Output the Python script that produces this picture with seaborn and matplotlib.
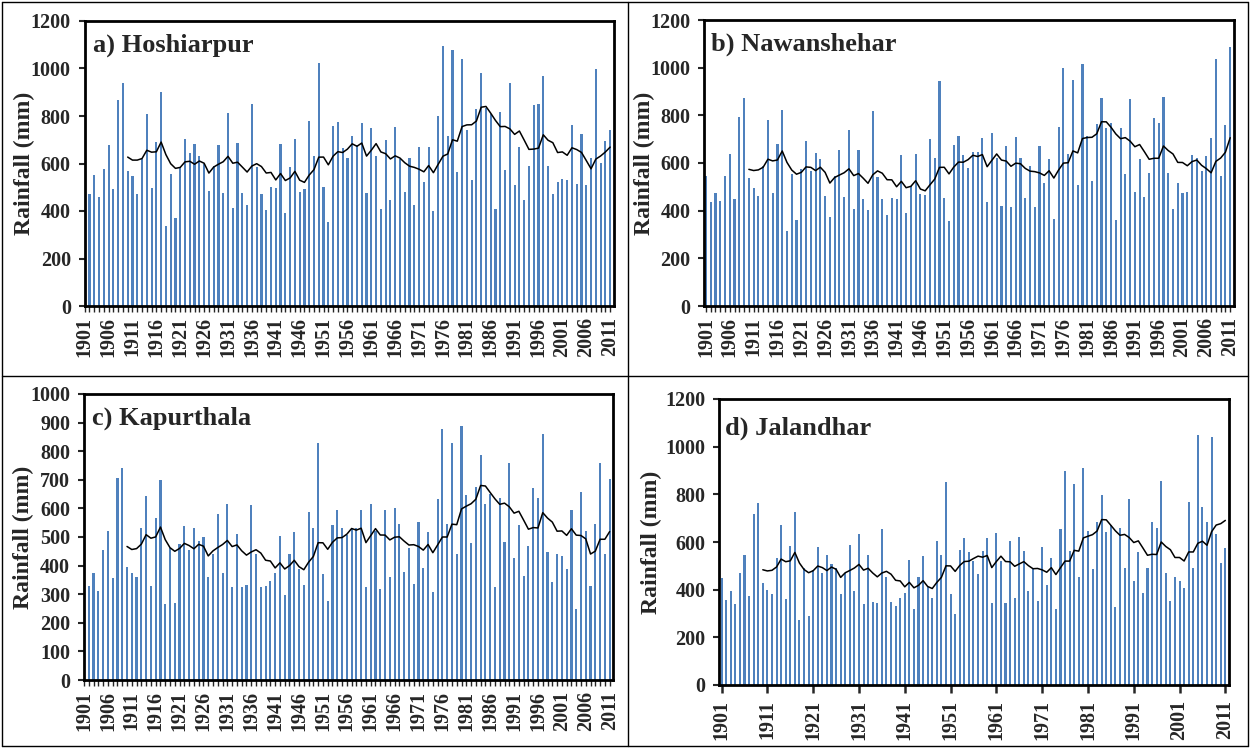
import numpy as np
import pandas as pd
import matplotlib
matplotlib.use("Agg")
import matplotlib.pyplot as plt
from matplotlib.lines import Line2D
import seaborn as sns

sns.set_style("ticks")
plt.rcParams["font.family"] = ["Liberation Serif", "DejaVu Serif"]
plt.rcParams["font.weight"] = "bold"

years = list(range(1901, 2012))

hoshiarpur = [
    673, 470, 552, 458, 578, 676, 491, 867, 938, 567,
    546, 470, 618, 807, 497, 692, 900, 338, 556, 371,
    587, 703, 643, 682, 633, 598, 486, 591, 676, 476,
    813, 414, 686, 476, 425, 851, 584, 470, 404, 501,
    497, 682, 393, 584, 703, 480, 491, 779, 633, 1025,
    501, 355, 758, 773, 667, 623, 714, 676, 769, 476,
    748, 633, 408, 699, 446, 754, 620, 480, 623, 425,
    671, 524, 671, 399, 800, 1095, 714, 1078, 563, 1040,
    742, 529, 828, 981, 832, 810, 408, 818, 573, 939,
    508, 671, 446, 589, 845, 849, 970, 589, 470, 524,
    535, 529, 762, 514, 724, 508, 623, 996, 601, 693,
    741,
]

nawanshehar = [
    547, 436, 476, 442, 547, 639, 448, 792, 872, 535,
    497, 463, 587, 779, 476, 678, 824, 313, 552, 361,
    573, 693, 568, 644, 616, 463, 375, 547, 654, 459,
    737, 408, 654, 448, 404, 818, 540, 448, 383, 453,
    448, 633, 389, 505, 639, 470, 465, 699, 623, 945,
    453, 355, 676, 714, 633, 578, 648, 648, 703, 436,
    724, 619, 421, 671, 414, 710, 622, 453, 589, 414,
    671, 514, 616, 366, 752, 998, 639, 947, 508, 1015,
    714, 524, 762, 872, 748, 769, 361, 748, 552, 867,
    480, 616, 459, 556, 790, 769, 877, 556, 408, 514,
    476, 480, 633, 622, 568, 629, 703, 1036, 547, 758,
    1085,
]

kapurthala = [
    480, 330, 374, 311, 453, 520, 357, 705, 743, 396,
    374, 361, 530, 642, 330, 565, 701, 265, 462, 270,
    474, 538, 454, 530, 485, 500, 361, 442, 579, 375,
    615, 325, 511, 325, 333, 611, 439, 325, 329, 347,
    374, 502, 297, 442, 519, 388, 333, 588, 530, 828,
    370, 275, 542, 596, 530, 506, 532, 532, 596, 325,
    614, 520, 319, 593, 361, 601, 547, 379, 460, 337,
    551, 393, 516, 306, 633, 878, 547, 828, 442, 888,
    647, 478, 674, 787, 614, 650, 325, 637, 484, 760,
    425, 543, 365, 470, 670, 637, 860, 447, 344, 442,
    434, 388, 596, 248, 656, 520, 330, 547, 760, 442,
    702,
]

jalandhar = [
    448, 356, 395, 339, 471, 546, 373, 718, 763, 426,
    399, 382, 534, 671, 361, 584, 724, 273, 493, 290,
    483, 578, 469, 546, 507, 493, 382, 469, 588, 394,
    633, 339, 546, 349, 345, 654, 452, 349, 333, 366,
    387, 525, 318, 452, 541, 410, 367, 605, 546, 850,
    382, 296, 567, 616, 556, 522, 466, 562, 616, 343,
    637, 520, 343, 605, 366, 622, 562, 394, 487, 354,
    578, 420, 534, 317, 654, 899, 562, 845, 454, 909,
    648, 487, 686, 796, 644, 670, 328, 660, 490, 780,
    437, 556, 388, 490, 686, 660, 854, 471, 354, 454,
    437, 409, 767, 490, 1050, 746, 686, 1039, 633, 513,
    573,
]

panel_titles = ["a) Hoshiarpur", "b) Nawanshehar", "c) Kapurthala", "d) Jalandhar"]
y_label = "Rainfall (mm)"

W, H = 1251, 748
fig = plt.figure(figsize=(W / 100, H / 100), dpi=100)

def fr(l, r, t, b):
    return [l / W, 1 - b / H, (r - l) / W, (b - t) / H]

specs = [
    dict(data=hoshiarpur, rect=fr(84.7, 613.5, 21, 306), ymax=1200, ystep=200,
         xlim=(1901.0, 2011.7), xstep=5, minor=True, ylab_x=-0.094,
         title_xy=(0.016, 0.916)),
    dict(data=nawanshehar, rect=fr(704.3, 1234, 20, 306), ymax=1200, ystep=200,
         xlim=(1900.65, 2011.8), xstep=5, minor=True, ylab_x=-0.093,
         title_xy=(0.013, 0.916)),
    dict(data=kapurthala, rect=fr(84, 613, 394, 680), ymax=1000, ystep=100,
         xlim=(1901.0, 2011.7), xstep=5, minor=True, ylab_x=-0.094,
         title_xy=(0.015, 0.916)),
    dict(data=jalandhar, rect=fr(719.3, 1229, 399, 685), ymax=1200, ystep=200,
         xlim=(1900.5, 2011.8), xstep=10, minor=False, ylab_x=-0.112,
         title_xy=(0.011, 0.899)),
]

bar_color = "#4F81BD"
tick_fs = 14.5

for spec, title in zip(specs, panel_titles):
    ax = fig.add_axes(spec["rect"])
    df = pd.DataFrame({"year": years, "rain": spec["data"]})
    df["ma"] = df["rain"].rolling(10).mean()
    sns.barplot(data=df, x="year", y="rain", native_scale=True, color=bar_color,
                saturation=1, width=0.45, errorbar=None, ax=ax, linewidth=0)
    sns.lineplot(data=df.dropna(), x="year", y="ma", color="black", linewidth=1.1, ax=ax)
    ax.set_xlim(*spec["xlim"])
    ax.set_ylim(0, spec["ymax"])
    yt = np.arange(0, spec["ymax"] + 1, spec["ystep"])
    ax.set_yticks(yt)
    ax.set_yticklabels([str(v) for v in yt], fontsize=tick_fs, fontweight="bold")
    if spec["minor"]:
        ax.set_xticks(years)
        ax.set_xticklabels([str(y) if (y - 1901) % spec["xstep"] == 0 else "" for y in years],
                           rotation=90, fontsize=tick_fs, fontweight="bold")
        ax.tick_params(axis="x", length=4, width=1, pad=4)
    else:
        xt = list(range(1901, 2012, spec["xstep"]))
        ax.set_xticks(xt)
        ax.set_xticklabels([str(y) for y in xt], rotation=90, fontsize=tick_fs, fontweight="bold")
        ax.tick_params(axis="x", length=6, width=1.8, pad=5)
    ax.tick_params(axis="y", length=4, width=1.5, pad=6)
    ax.set_xlabel("")
    ax.set_ylabel(y_label, fontsize=17, fontweight="bold")
    ax.yaxis.set_label_coords(spec["ylab_x"], 0.5)
    for s in ax.spines.values():
        s.set_visible(True)
        s.set_linewidth(2.0)
        s.set_color("black")
    ax.text(spec["title_xy"][0], spec["title_xy"][1], title, transform=ax.transAxes,
            fontsize=19, fontweight="bold", va="center", ha="left")

# quadrant frame lines
def fline(x0, y0, x1, y1):
    fig.add_artist(Line2D([x0 / W, x1 / W], [1 - y0 / H, 1 - y1 / H],
                          color="black", linewidth=1.0, transform=fig.transFigure))

fline(2, 2, 1248, 2)
fline(2, 746, 1248, 746)
fline(2, 2, 2, 746)
fline(1248, 2, 1248, 746)
fline(628, 2, 628, 746)
fline(2, 376, 1248, 376)

fig.savefig("out.png", dpi=100, facecolor="white")
